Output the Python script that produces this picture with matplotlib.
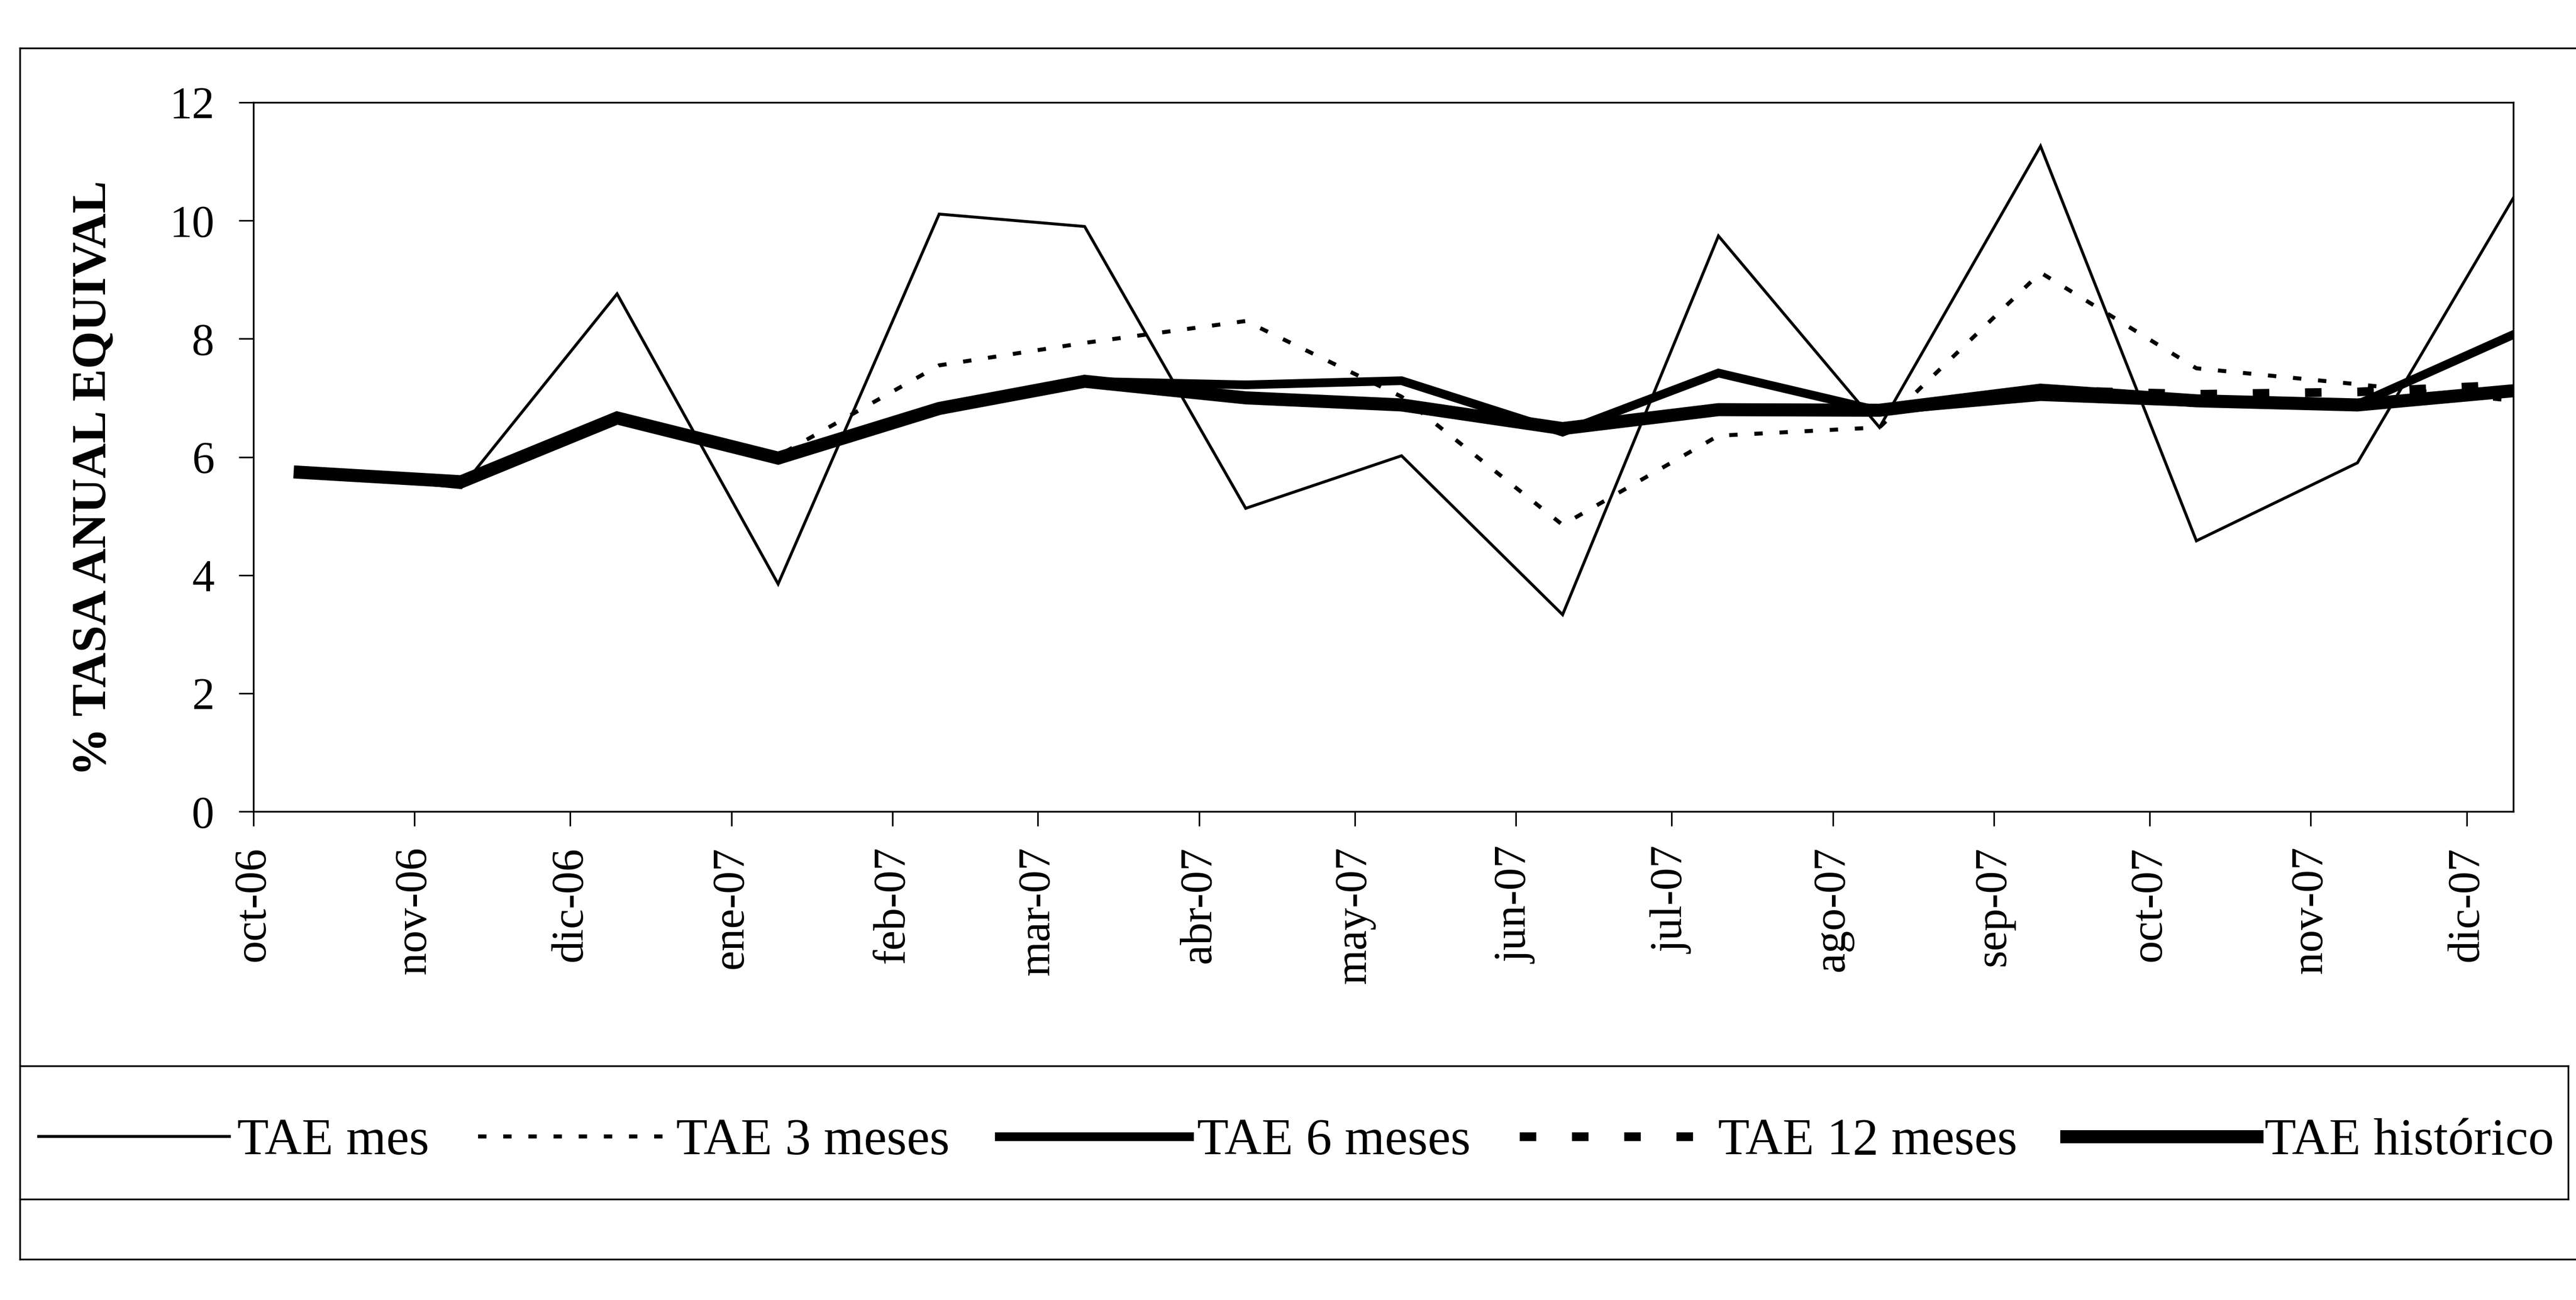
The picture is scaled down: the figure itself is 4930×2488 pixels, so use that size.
import matplotlib
matplotlib.use("Agg")
import matplotlib.pyplot as plt
import matplotlib.dates as mdates
from matplotlib.lines import Line2D
from datetime import datetime

plt.rcParams['font.family'] = ['Liberation Serif', 'DejaVu Serif']

# ---- data ----
labels = ['oct-06', 'nov-06', 'dic-06', 'ene-07', 'feb-07', 'mar-07', 'abr-07',
          'may-07', 'jun-07', 'jul-07', 'ago-07', 'sep-07', 'oct-07', 'nov-07', 'dic-07']
months = [(2006, 10), (2006, 11), (2006, 12), (2007, 1), (2007, 2), (2007, 3), (2007, 4),
          (2007, 5), (2007, 6), (2007, 7), (2007, 8), (2007, 9), (2007, 10), (2007, 11), (2007, 12)]
tae_mes = [5.74, 5.48, 8.76, 3.85, 10.11, 9.90, 5.13, 6.02, 3.33, 9.74, 6.50, 11.26, 4.58, 5.90, 10.38]
tae_3m = [5.74, 5.58, 6.66, 6.02, 7.55, 7.93, 8.30, 7.02, 4.85, 6.36, 6.50, 9.12, 7.50, 7.23, 6.95]
tae_6m = [5.74, 5.58, 6.66, 5.98, 6.82, 7.28, 7.22, 7.29, 6.42, 7.42, 6.78, 7.02, 6.92, 6.89, 8.07]
tae_12m = [5.74, 5.58, 6.66, 5.98, 6.82, 7.28, 7.00, 6.88, 6.48, 6.80, 6.79, 7.13, 7.06, 7.10, 7.22]
tae_hist = [5.74, 5.58, 6.66, 5.98, 6.82, 7.28, 7.00, 6.88, 6.48, 6.80, 6.79, 7.13, 6.95, 6.88, 7.12]
series_names = ['TAE mes', 'TAE 3 meses', 'TAE 6 meses', 'TAE 12 meses', 'TAE histórico']

W, H = 4930, 2488
fig = plt.figure(figsize=(W / 100, H / 100), dpi=100)

def fx(px):
    return px / W

def fy(py):
    return 1 - py / H

# axes: plot area
L, R, T, B = 485, 4810, 196, 1553
ax = fig.add_axes([fx(L), fy(B), fx(R) - fx(L), fy(T) - fy(B)])

dates = [datetime(y, m, 10) for (y, m) in months]
ticks = [datetime(y, m, 1) for (y, m) in months]

ax.plot(dates, tae_mes, color='black', lw=4.0, solid_joinstyle='miter', label=series_names[0], zorder=3)
ax.plot(dates, tae_3m, color='black', lw=5.5, linestyle=(0, (2.1, 4.2)), dash_capstyle='butt',
        label=series_names[1], zorder=4)
ax.plot(dates, tae_6m, color='black', lw=12, solid_joinstyle='miter', label=series_names[2], zorder=5)
ax.plot(dates, tae_12m, color='black', lw=12, linestyle=(0, (1.9, 4.1)), dash_capstyle='butt',
        label=series_names[3], zorder=6)
ax.plot(dates, tae_hist, color='black', lw=18, solid_joinstyle='miter', label=series_names[4], zorder=7)

ax.set_xlim(datetime(2006, 10, 1), datetime(2007, 12, 10))
ax.set_ylim(0, 12)
ax.set_yticks([0, 2, 4, 6, 8, 10, 12])
ax.set_xticks(mdates.date2num(ticks))
ax.set_xticklabels(labels, rotation=90, fontsize=62)
ax.tick_params(axis='y', labelsize=62, length=20, width=2.2, pad=34, direction='out')
ax.tick_params(axis='x', length=20, width=2.2, pad=28, direction='out')
for s in ax.spines.values():
    s.set_linewidth(2.4)
    s.set_color('black')

fig.text(fx(180), fy(915), '% TASA ANUAL EQUIVAL', rotation=90, ha='center', va='center',
         fontsize=67, fontweight='bold')

# outer chart frame and legend box
frame_kw = dict(color='black', lw=2.4, transform=fig.transFigure, clip_on=False)
fig.add_artist(Line2D([fx(38), 1.0], [fy(92), fy(92)], **frame_kw))
fig.add_artist(Line2D([fx(38), fx(38)], [fy(92), fy(2410)], **frame_kw))
fig.add_artist(Line2D([fx(38), 1.0], [fy(2410), fy(2410)], **frame_kw))
fig.add_artist(Line2D([fx(38), fx(4915)], [fy(2040), fy(2040)], **frame_kw))
fig.add_artist(Line2D([fx(38), fx(4915)], [fy(2295), fy(2295)], **frame_kw))
fig.add_artist(Line2D([fx(4915), fx(4915)], [fy(2040), fy(2295)], **frame_kw))

handles, lbls = ax.get_legend_handles_labels()
fig.legend(handles, lbls, loc='center', bbox_to_anchor=(fx(2481), fy(2185)), ncol=5,
           frameon=False, fontsize=71, handlelength=3.7, handletextpad=0.15, columnspacing=0.95)

fig.savefig('out.png', dpi=100)
